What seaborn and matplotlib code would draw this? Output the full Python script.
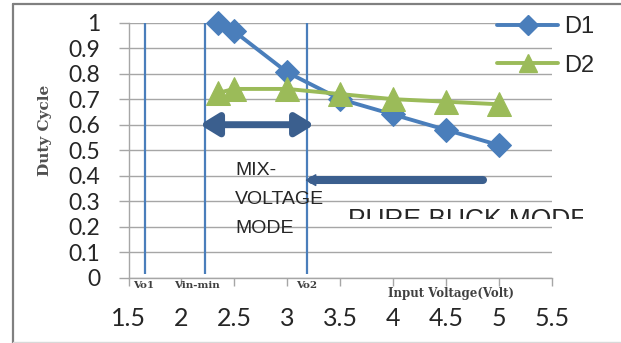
import matplotlib
matplotlib.use("Agg")
import matplotlib.pyplot as plt
import seaborn as sns
import pandas as pd
from matplotlib.lines import Line2D
from matplotlib.transforms import Bbox, TransformedBbox

# Duty cycle of the two switches versus input voltage
voltage = [2.35, 2.5, 3.0, 3.5, 4.0, 4.5, 5.0]
d1 = [1.0, 0.965, 0.805, 0.70, 0.64, 0.58, 0.52]
d2 = [0.725, 0.74, 0.74, 0.72, 0.70, 0.69, 0.68]

x_ticks = [1.5, 2, 2.5, 3, 3.5, 4, 4.5, 5, 5.5]
x_tick_labels = ["1.5", "2", "2.5", "3", "3.5", "4", "4.5", "5", "5.5"]
y_ticks = [0, 0.1, 0.2, 0.3, 0.4, 0.5, 0.6, 0.7, 0.8, 0.9, 1.0]
y_tick_labels = ["0", "0.1", "0.2", "0.3", "0.4", "0.5", "0.6", "0.7", "0.8", "0.9", "1"]

# Operating-mode boundaries (V)
boundary_names = ["Vo1", "Vin-min", "Vo2"]
boundary_volts = [1.66, 2.22, 3.19]

# Mode ranges shown with arrows (V)
mix_range = [2.175, 3.255]
buck_range = [3.17, 4.85]

BLUE = "#4a7ebb"
GREEN = "#9bbb59"
ARROW = "#3b5f8e"
GRID = "#a6a6a6"
TEXT = "#262626"

sns.set_theme(style="white")
plt.rcParams["font.family"] = ["Lato", "DejaVu Sans"]

fig = plt.figure(figsize=(6.21, 3.43), dpi=100)
ax = fig.add_axes([128.5 / 621, 1 - 278 / 343, (551.7 - 128.5) / 621, (278 - 22.5) / 343])

df = pd.DataFrame({"voltage": voltage, "D1": d1, "D2": d2})

# Mode boundary markers
ax.vlines(boundary_volts, 0.016, 1.008, colors=BLUE, lw=1.6, zorder=2)

sns.lineplot(data=df, x="voltage", y="D1", ax=ax, color=BLUE, lw=2.8,
             marker="D", markersize=12, markeredgecolor=BLUE, zorder=4,
             clip_on=False)
sns.lineplot(data=df, x="voltage", y="D2", ax=ax, color=GREEN, lw=2.8,
             marker="^", markersize=17, markeredgecolor=GREEN, zorder=5,
             clip_on=False)

ax.set_xlim(x_ticks[0], x_ticks[-1])
ax.set_ylim(0, 1)
ax.set_xticks(x_ticks)
ax.set_xticklabels(x_tick_labels, fontsize=18, color=TEXT)
ax.set_yticks(y_ticks)
ax.set_yticklabels(y_tick_labels, fontsize=16.5, color=TEXT)
ax.tick_params(axis="x", direction="out", length=6, width=1, color=GRID, pad=15, bottom=True)
ax.tick_params(axis="y", direction="out", length=7.5, width=1, color=GRID, pad=13, left=True)
ax.grid(axis="y", color=GRID, lw=1)
ax.grid(axis="x", visible=False)
ax.set_xlabel("")
ax.set_ylabel("")
for side in ["top", "right"]:
    ax.spines[side].set_visible(False)
for side in ["left", "bottom"]:
    ax.spines[side].set_color(GRID)
    ax.spines[side].set_linewidth(1)

# Mix-voltage range: double-headed arrow
ax.annotate("", xy=(mix_range[0], 0.6), xytext=(mix_range[1], 0.6),
            arrowprops=dict(arrowstyle="<|-|>,head_length=0.9,head_width=0.55",
                            lw=5, color=ARROW, shrinkA=0, shrinkB=0,
                            mutation_scale=12),
            zorder=6)
# Pure buck range: thick shaft with a small head at the left end
buck_y = 0.383
ax.plot([buck_range[0] + 0.06, buck_range[1]], [buck_y, buck_y], color=ARROW,
        lw=5.8, solid_capstyle="round", zorder=6)
ax.annotate("", xy=(buck_range[0], buck_y), xytext=(buck_range[0] + 0.15, buck_y),
            arrowprops=dict(arrowstyle="-|>,head_length=0.55,head_width=0.32",
                            lw=1, color=ARROW, shrinkA=0, shrinkB=0,
                            mutation_scale=12),
            zorder=6)

# Mode labels
ax.text(2.51, 0.455, "MIX-\nVOLTAGE\nMODE", fontsize=14, color=TEXT,
        family=["Liberation Sans", "DejaVu Sans"], va="top", ha="left",
        linespacing=1.95, zorder=3)
buck = ax.text(3.575, 0.20, "PURE BUCK MODE", fontsize=19, color=TEXT,
               family=["Liberation Sans", "DejaVu Sans"], va="baseline", ha="left",
               zorder=3)
buck.set_clip_box(TransformedBbox(Bbox([[3.4, 0.232], [5.8, 0.5]]), ax.transData))
buck.set_clip_on(True)

# Small serif annotations under the axis
serif = ["DejaVu Serif"]
label_x = [1.545, 1.93, 3.08]
for name, lx in zip(boundary_names, label_x):
    ax.text(lx, -0.028, name, fontsize=7.5, family=serif, weight="bold",
            color="#404040", ha="left", va="center")
ax.text(4.55, -0.06, "Input Voltage(Volt)", fontsize=8.5, family=serif,
        weight="bold", color="#404040", ha="center", va="center")
fig.text(45 / 621, 1 - 130 / 343, "Duty Cycle", rotation=90, fontsize=11,
         family=serif, weight="bold", color="#505050", ha="center", va="center")

# Legend
handles = [Line2D([], [], color=BLUE, lw=2.8, marker="D", markersize=10),
           Line2D([], [], color=GREEN, lw=2.8, marker="^", markersize=13)]
fig.legend(handles, ["D1", "D2"], loc="upper left",
           bbox_to_anchor=(497 / 621, 1 - 16 / 343), frameon=False,
           handlelength=2.6, handletextpad=0.25,
           labelspacing=0.7, borderpad=0, borderaxespad=0,
           prop={"family": ["Liberation Sans", "DejaVu Sans"], "size": 17})

# Outer frame
fig.add_artist(Line2D([13 / 621, 13 / 621], [0, 1 - 4 / 343], color="#808080", lw=1.6,
                      transform=fig.transFigure))
fig.add_artist(Line2D([13 / 621, 1], [1 - 4 / 343, 1 - 4 / 343], color="#808080", lw=1.6,
                      transform=fig.transFigure))
fig.add_artist(Line2D([13 / 621, 1], [1 / 343, 1 / 343], color="#d9d9d9", lw=1,
                      transform=fig.transFigure))

fig.savefig("out.png", dpi=100)
